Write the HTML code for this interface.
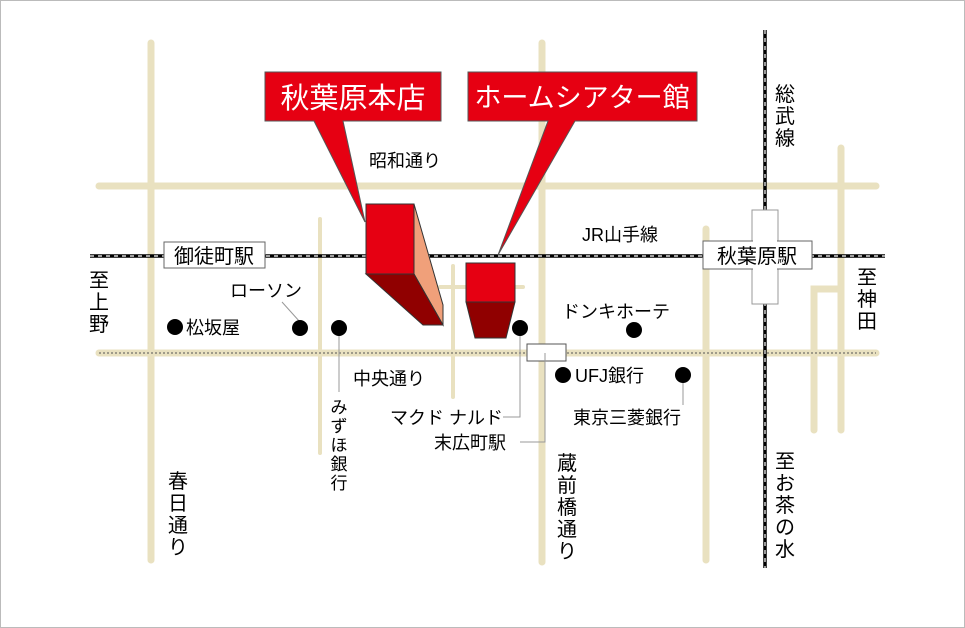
<!DOCTYPE html>
<html><head><meta charset="utf-8"><style>
html,body{margin:0;padding:0;background:#fff}
svg{display:block}
text{font-family:"Liberation Sans","Noto Sans CJK JP",sans-serif;fill:#000}
</style></head><body>
<svg width="965" height="628" viewBox="0 0 965 628" xmlns="http://www.w3.org/2000/svg">
<rect x="0.5" y="0.5" width="964" height="627" fill="#fff" stroke="#bbb"/>
<g stroke="#e9e1c0" stroke-width="7" stroke-linecap="round" fill="none">
<line x1="151" y1="43" x2="151" y2="560"/>
<line x1="542" y1="43" x2="542" y2="562"/>
<line x1="706" y1="229" x2="706" y2="560"/>
<line x1="841" y1="148" x2="841" y2="430"/>
<line x1="99" y1="186" x2="876" y2="186"/>
<line x1="99" y1="353" x2="876" y2="353"/>
<polyline points="814,430 814,289 841,289"/>
</g>
<g stroke="#e9e1c0" stroke-width="4" stroke-linecap="round" fill="none">
<line x1="320" y1="219" x2="320" y2="453"/>
<line x1="453" y1="266" x2="453" y2="397"/>
<line x1="440" y1="287" x2="523" y2="287"/>
</g>
<line x1="99" y1="353" x2="876" y2="353" stroke="#555" stroke-width="1" stroke-dasharray="2,2"/>
<line x1="90" y1="256" x2="885" y2="256" stroke="#000" stroke-width="3.5"/>
<line x1="90" y1="256" x2="885" y2="256" stroke="#fff" stroke-width="1.2" stroke-dasharray="4,4"/>
<line x1="765" y1="30" x2="765" y2="568" stroke="#000" stroke-width="3.5"/>
<line x1="765" y1="30" x2="765" y2="568" stroke="#fff" stroke-width="1.2" stroke-dasharray="4,4"/>
<rect x="752" y="210" width="26" height="94" fill="#fff" stroke="#999"/>
<rect x="703" y="241" width="109" height="28" fill="#fff" stroke="#666"/>
<rect x="753" y="240" width="24" height="30" fill="#fff"/>
<text x="757" y="263" font-size="20" text-anchor="middle">秋葉原駅</text>
<rect x="164" y="242" width="101" height="26" fill="#fff" stroke="#666"/>
<text x="214" y="263" font-size="20" text-anchor="middle">御徒町駅</text>
<rect x="527" y="344" width="39" height="17" fill="#fff" stroke="#555"/>
<g stroke="#999" stroke-width="1" fill="none">
<line x1="282" y1="302" x2="300" y2="322"/>
<line x1="339" y1="330" x2="339" y2="392"/>
<polyline points="520,330 520,417 503,417"/>
<polyline points="545,353 545,442 520,442"/>
<line x1="683" y1="377" x2="683" y2="405"/>
</g>
<g fill="#000">
<circle cx="175" cy="327" r="8"/><circle cx="300" cy="328" r="8"/><circle cx="339" cy="328" r="8"/>
<circle cx="520" cy="328" r="8"/><circle cx="634" cy="330" r="8"/><circle cx="563" cy="375" r="8"/><circle cx="683" cy="375" r="8"/>
</g>
<g stroke="#333" stroke-width="1">
<polygon points="414,204 443,305 443,325 414,274" fill="#f0a07a"/>
<polygon points="366,274 414,274 443,325 423,325" fill="#900000"/>
<rect x="366" y="204" width="48" height="70" fill="#e60012"/>
<polygon points="466,302 515,302 506,338 475,338" fill="#900000"/>
<rect x="466" y="263" width="49" height="39" fill="#e60012"/>
<polygon points="265,72 441,72 441,121 343,121 365,222 314,121 265,121" fill="#e60012" stroke="#555"/>
<polygon points="468,72 697,72 697,121 575,121 498,255 548,121 468,121" fill="#e60012" stroke="#555"/>
</g>
<text x="353" y="108" font-size="29" style="fill:#fff" text-anchor="middle">秋葉原本店</text>
<text x="582" y="107" font-size="27" style="fill:#fff" text-anchor="middle">ホームシアター館</text>
<g font-size="18">
<text x="369" y="167">昭和通り</text>
<text x="582" y="241">JR山手線</text>
<text x="230" y="297">ローソン</text>
<text x="186" y="334">松坂屋</text>
<text x="562" y="318">ドンキホーテ</text>
<text x="353" y="385">中央通り</text>
<text x="575" y="382">UFJ銀行</text>
<text x="390" y="424">マクド ナルド</text>
<text x="573" y="424">東京三菱銀行</text>
<text x="434" y="449">末広町駅</text>
</g>
<g font-size="20" text-anchor="middle">
<text x="99" y="287">至</text><text x="99" y="309">上</text><text x="99" y="331">野</text>
<text x="785" y="101">総</text><text x="785" y="123">武</text><text x="785" y="145">線</text>
<text x="867" y="284">至</text><text x="867" y="306">神</text><text x="867" y="328">田</text>
<text x="178" y="488">春</text><text x="178" y="510">日</text><text x="178" y="532">通</text><text x="178" y="554">り</text>
<text x="567" y="470">蔵</text><text x="567" y="492">前</text><text x="567" y="514">橋</text><text x="567" y="536">通</text><text x="567" y="558">り</text>
<text x="785" y="468">至</text><text x="785" y="490">お</text><text x="785" y="512">茶</text><text x="785" y="534">の</text><text x="785" y="556">水</text>
</g>
<g font-size="17" text-anchor="middle">
<text x="339" y="413">み</text><text x="339" y="432">ず</text><text x="339" y="451">ほ</text><text x="339" y="470">銀</text><text x="339" y="489">行</text>
</g>
</svg>
</body></html>
